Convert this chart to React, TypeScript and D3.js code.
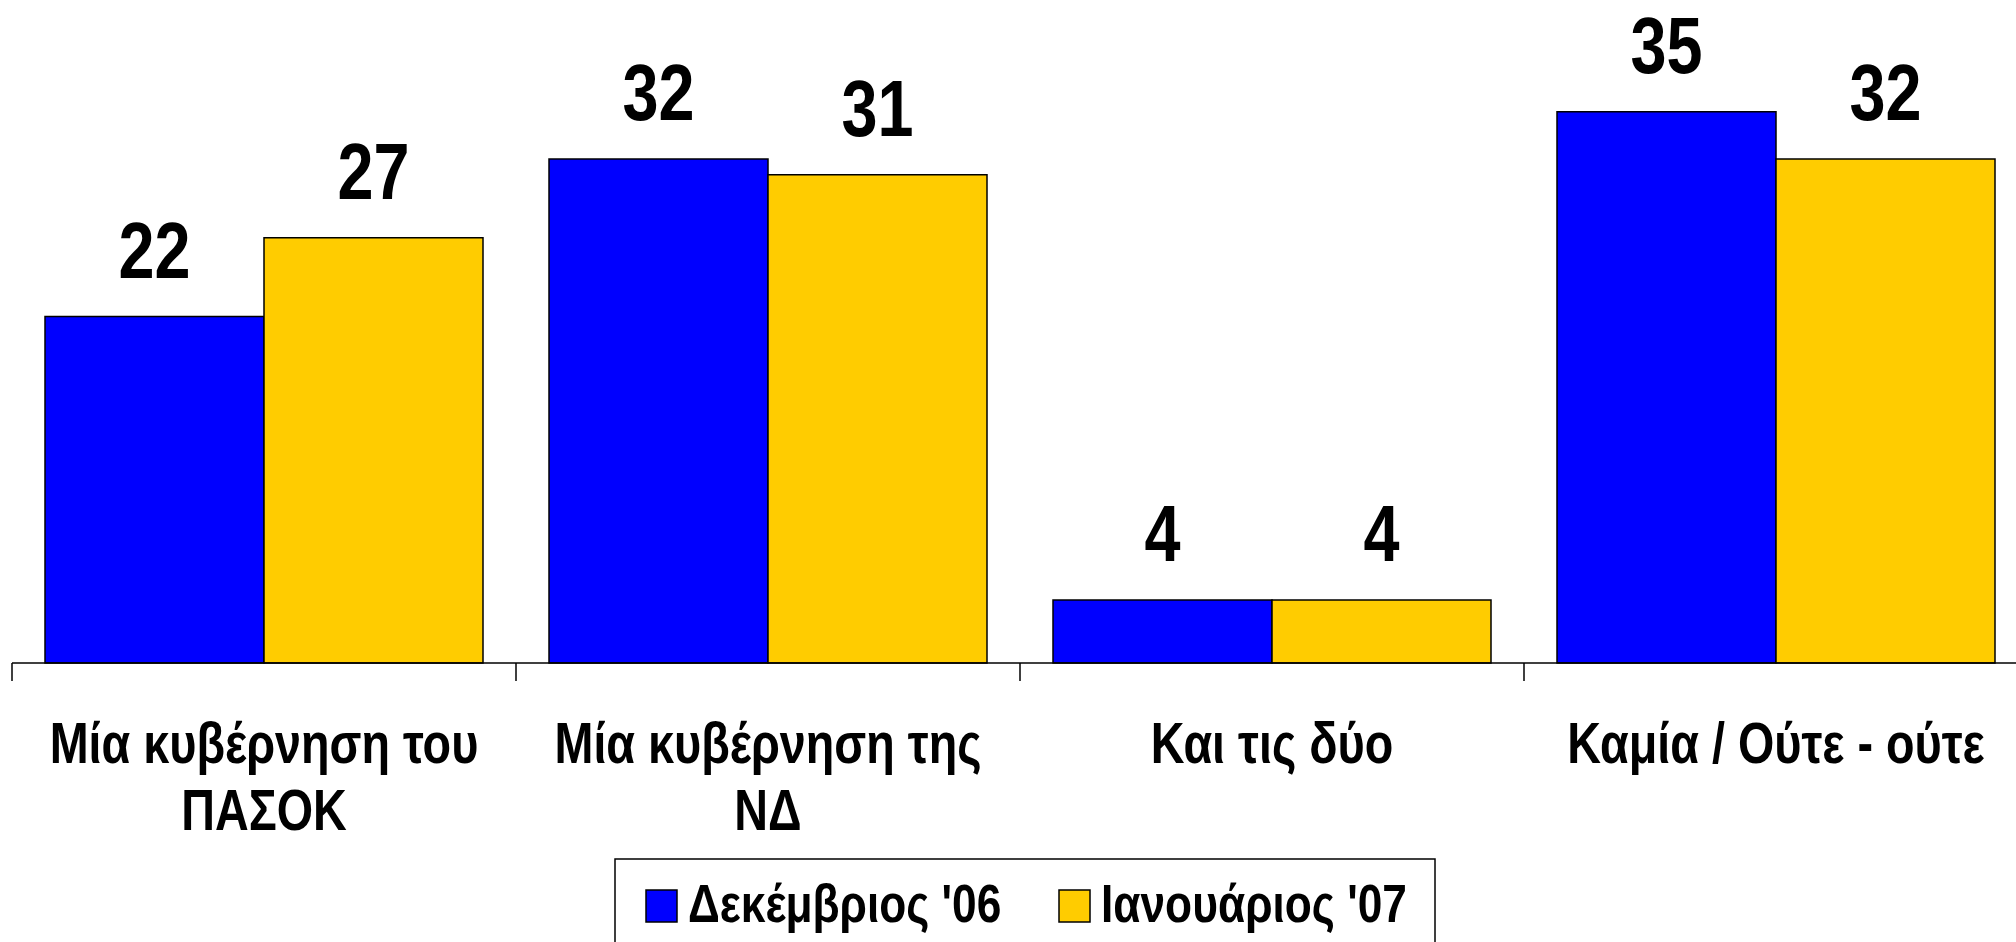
import React from 'react';
import * as d3 from 'd3';

const categories = [
  ['Μία κυβέρνηση του', 'ΠΑΣΟΚ'],
  ['Μία κυβέρνηση της', 'ΝΔ'],
  ['Και τις δύο'],
  ['Καμία / Ούτε - ούτε'],
];
const seriesNames = ["Δεκέμβριος '06", "Ιανουάριος '07"];
const december = [22, 32, 4, 35];
const january = [27, 31, 4, 32];
const colors = ['#0000ff', '#ffcc00'];

const FONT = "'Liberation Sans', Arial, sans-serif";
const NARROW = 0.82;

// Arial Narrow is not installed, so squeeze Liberation Sans horizontally
const Narrow = ({ x, y, size, anchor = 'middle', children }: any) => (
  <text transform={`translate(${x},${y}) scale(${NARROW},1)`} textAnchor={anchor} fontSize={size}>
    {children}
  </text>
);

const App = () => {
  const width = 2016;
  const height = 942;
  const baseY = 663;
  const series = [december, january];

  const x = d3.scaleBand<number>()
    .domain(categories.map((_, i) => i))
    .range([12, 2028]);

  const inner = d3.scaleBand<number>()
    .domain([0, 1])
    .range([33, x.bandwidth() - 33]);

  const y = d3.scaleLinear().domain([0, 40]).range([baseY, 33]);

  return (
    <svg width={width} height={height} style={{ position: 'absolute', left: 0, top: 0 }}
      fontFamily={FONT} fontWeight="bold">
      <rect width={width} height={height} fill="#fff" />
      {categories.map((cat, i) => (
        <g key={i} transform={`translate(${x(i)},0)`}>
          {series.map((vals, s) => (
            <g key={s}>
              <rect x={inner(s)} y={y(vals[i])} width={inner.bandwidth()}
                height={baseY - y(vals[i])} fill={colors[s]} stroke="#000" strokeWidth={1.5} />
              <Narrow x={inner(s)! + inner.bandwidth() / 2} y={y(vals[i]) - 39} size={79}>{vals[i]}</Narrow>
            </g>
          ))}
          <line x1={0} x2={0} y1={baseY} y2={baseY + 18} stroke="#000" strokeWidth={1.5} />
          {cat.map((line, j) => (
            <Narrow key={j} x={x.bandwidth() / 2} y={763 + j * 67} size={57}>{line}</Narrow>
          ))}
        </g>
      ))}
      <line x1={12} x2={width} y1={baseY} y2={baseY} stroke="#000" strokeWidth={1.5} />
      <g>
        <rect x={615} y={859} width={820} height={100} fill="#fff" stroke="#000" strokeWidth={1.5} />
        {seriesNames.map((name, s) => {
          const lx = s === 0 ? 646 : 1059;
          return (
            <g key={s}>
              <rect x={lx} y={890} width={31} height={32} fill={colors[s]} stroke="#000" strokeWidth={1.5} />
              <Narrow x={lx + 42} y={922} size={54} anchor="start">{name}</Narrow>
            </g>
          );
        })}
      </g>
    </svg>
  );
};

export default App;
